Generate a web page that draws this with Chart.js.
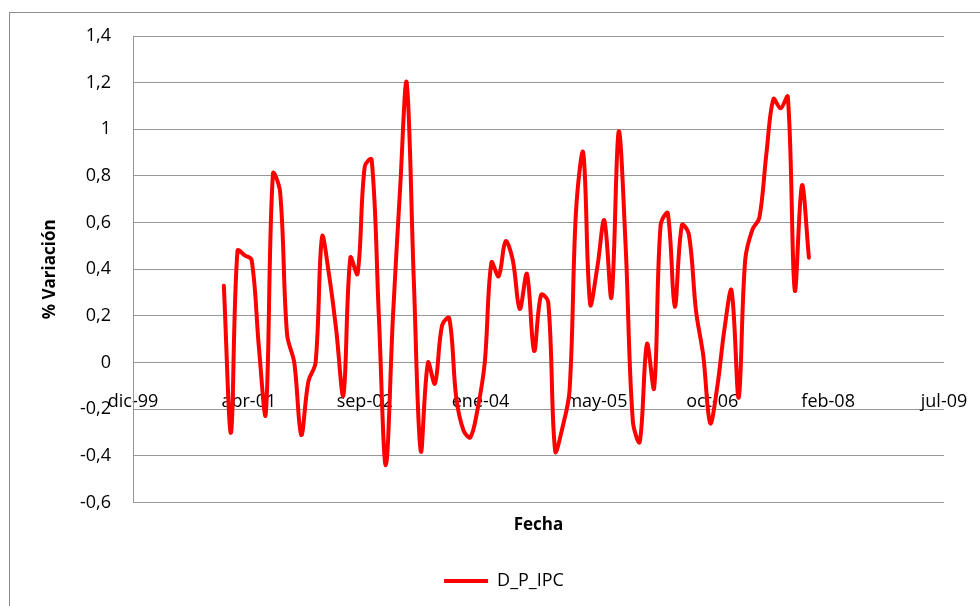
<!DOCTYPE html>
<html lang="es">
<head>
  <meta charset="UTF-8" />
  <title>D_P_IPC</title>
  <script src="https://cdn.jsdelivr.net/npm/chart.js"></script>
  <style>
    body {
      margin: 0;
      width: 980px;
      height: 606px;
      overflow: hidden;
      background: #fff;
      position: relative;
    }

    #frame {
      position: absolute;
      left: 9px;
      top: 12px;
      width: 1100px;
      height: 700px;
      border: 1px solid #8c8c8c;
      pointer-events: none;
    }

    canvas#ipcChart {
      position: absolute;
      left: 0;
      top: 0;
    }
  </style>
</head>
<body>
  <canvas id="ipcChart" width="1008" height="606"></canvas>
  <div id="frame"></div>

  <script>
    // monthly variation of the price index, Jan 2001 .. Dec 2007
    const startYear = 2001;
    const dpIpc = [
      0.33, -0.30, 0.48, 0.46, 0.44, 0.07, -0.22, 0.81, 0.73, 0.12, 0.00, -0.31,
      -0.08, 0.00, 0.54, 0.37, 0.14, -0.14, 0.45, 0.38, 0.84, 0.87, 0.20, -0.44,
      0.20, 0.75, 1.20, 0.35, -0.38, 0.00, -0.09, 0.16, 0.19, -0.15, -0.29, -0.32,
      -0.20, 0.00, 0.43, 0.37, 0.52, 0.44, 0.23, 0.38, 0.05, 0.29, 0.26, -0.38,
      -0.28, -0.12, 0.65, 0.90, 0.25, 0.41, 0.61, 0.28, 0.99, 0.50, -0.25, -0.34,
      0.08, -0.11, 0.59, 0.64, 0.24, 0.59, 0.55, 0.22, 0.03, -0.26, -0.10, 0.14,
      0.31, -0.15, 0.44, 0.57, 0.62, 0.90, 1.13, 1.09, 1.14, 0.31, 0.76, 0.45
    ];

    // date axis in spreadsheet day serials, a label every 500 days
    const xMin = 36500;
    const xMax = 40000;
    const xStep = 500;
    const xTickLabels = ["dic-99", "abr-01", "sep-02", "ene-04", "may-05", "oct-06", "feb-08", "jul-09"];

    const yMin = -0.6;
    const yMax = 1.4;
    const yStep = 0.2;

    function daySerial(year, month) {
      return Date.UTC(year, month, 1) / 86400000 + 25569;
    }

    const points = dpIpc.map((v, i) => ({
      x: daySerial(startYear + Math.floor(i / 12), i % 12),
      y: v
    }));

    const gridGrey = "#979797";
    const tickFont = { family: "'Open Sans', sans-serif", size: 18 };
    const titleFont = { family: "'Open Sans', sans-serif", size: 17, weight: "bold" };

    const ctx = document.getElementById("ipcChart").getContext("2d");
    new Chart(ctx, {
      type: "line",
      data: {
        datasets: [{
          label: "D_P_IPC",
          data: points,
          borderColor: "#ff0000",
          backgroundColor: "#ff0000",
          borderWidth: 4,
          borderJoinStyle: "round",
          borderCapStyle: "round",
          pointRadius: 0,
          tension: 0.35,
          fill: false
        }]
      },
      options: {
        responsive: false,
        animation: false,
        devicePixelRatio: 1,
        layout: { padding: { left: 0, top: 36, right: 0, bottom: 6 } },
        scales: {
          x: {
            type: "linear",
            position: { y: 0 },
            min: xMin,
            max: xMax,
            grid: { display: false, drawTicks: false },
            border: { display: false },
            ticks: {
              stepSize: xStep,
              autoSkip: false,
              maxRotation: 0,
              padding: 28,
              color: "#000",
              font: tickFont,
              callback: (v) => xTickLabels[Math.round((v - xMin) / xStep)]
            },
            afterFit: (s) => { s.height = 0; }
          },
          xTitle: {
            type: "linear",
            axis: "x",
            position: "bottom",
            grid: { display: false, drawTicks: false },
            border: { display: false },
            ticks: { display: false },
            title: {
              display: true,
              text: "Fecha",
              color: "#000",
              font: titleFont,
              padding: { top: 12, bottom: 27 }
            }
          },
          y: {
            min: yMin,
            max: yMax,
            grid: { color: gridGrey, lineWidth: 1, drawTicks: false },
            border: { color: gridGrey, width: 1 },
            ticks: {
              stepSize: yStep,
              padding: 22,
              color: "#000",
              font: tickFont,
              callback: (v) => String(Math.round(v * 10) / 10).replace(".", ",")
            },
            title: {
              display: true,
              text: "% Variación",
              color: "#000",
              font: titleFont,
              padding: { top: 40, bottom: 0 }
            },
            afterFit: (s) => { s.width = 133; }
          },
          yRight: {
            type: "linear",
            position: "right",
            grid: { display: false, drawTicks: false },
            border: { display: false },
            ticks: { display: false },
            afterFit: (s) => { s.width = 64; }
          }
        },
        plugins: {
          legend: {
            display: true,
            position: "bottom",
            labels: {
              usePointStyle: true,
              pointStyle: "line",
              pointStyleWidth: 44,
              color: "#000",
              font: tickFont,
              padding: 10
            }
          },
          tooltip: { enabled: false }
        }
      }
    });
  </script>
</body>
</html>
